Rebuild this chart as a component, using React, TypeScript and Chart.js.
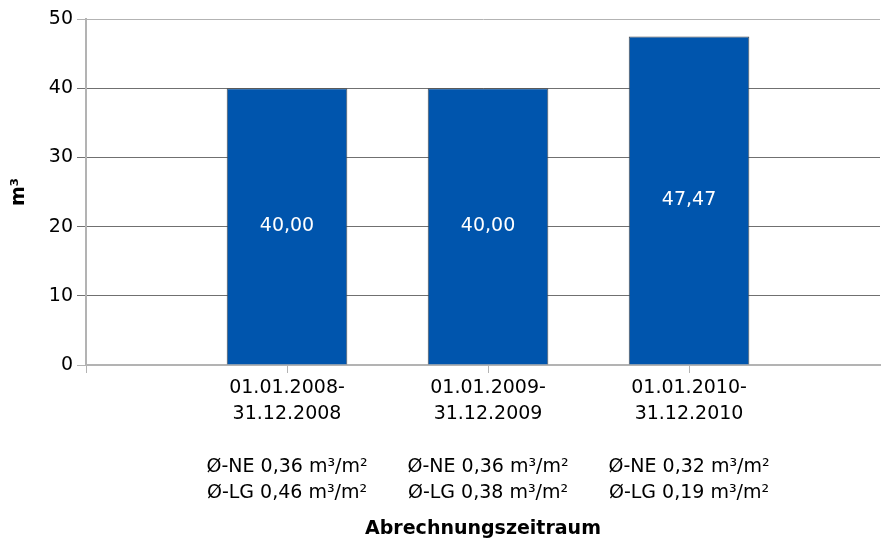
import React, { useEffect, useRef } from "react";
import { Chart, registerables } from "chart.js";

Chart.register(...registerables);

const categoryStart: string[] = ["01.01.2008-", "01.01.2009-", "01.01.2010-"];
const categoryEnd: string[] = ["31.12.2008", "31.12.2009", "31.12.2010"];
const values: number[] = [40.0, 40.0, 47.47];
const neValues: string[] = ["0,36", "0,36", "0,32"];
const lgValues: string[] = ["0,46", "0,38", "0,19"];
const yTicks: number[] = [0, 10, 20, 30, 40, 50];

const FONT = "'DejaVu Sans', Verdana, sans-serif";

const fmt = (v: number) => v.toFixed(2).replace(".", ",");

const valueLabels = {
  id: "valueLabels",
  afterDatasetsDraw(chart: any) {
    const ctx = chart.ctx;
    const meta = chart.getDatasetMeta(0);
    ctx.save();
    ctx.fillStyle = "#ffffff";
    ctx.font = `19px ${FONT}`;
    ctx.textAlign = "center";
    ctx.textBaseline = "middle";
    meta.data.forEach((bar: any, i: number) => {
      const { x, y, base } = bar.getProps(["x", "y", "base"], true);
      ctx.fillText(fmt(values[i]), x, (y + base) / 2);
    });
    ctx.restore();
  },
};

export default function App() {
  const ref = useRef<HTMLCanvasElement | null>(null);
  useEffect(() => {
    if (!ref.current) return;
    const chart = new Chart(ref.current, {
      type: "bar",
      data: {
        datasets: [
          {
            data: values.map((v, i) => ({ x: i + 1, y: v })),
            backgroundColor: "#0055ad",
            borderColor: "#4a4a4a",
            borderWidth: 1,
            barPercentage: 0.6,
            categoryPercentage: 1,
          },
        ],
      },
      options: {
        animation: false,
        responsive: false,
        devicePixelRatio: 1,
        layout: { padding: { top: 19, right: 2, left: 0, bottom: 0 } },
        plugins: { legend: { display: false }, tooltip: { enabled: false } },
        scales: {
          x: {
            type: "linear",
            offset: false,
            min: 0,
            max: 3.95,
            afterBuildTicks: (scale: any) => {
              scale.ticks = [0, 1, 2, 3].map((v) => ({ value: v }));
            },
            afterFit: (scale: any) => {
              scale.height = 175;
            },
            ticks: {
              autoSkip: false,
              maxRotation: 0,
              color: "#000",
              padding: 2,
              font: { family: FONT, size: 19, lineHeight: 1.38 },
              callback: (v: any) => {
                const i = Number(v) - 1;
                if (i < 0 || i > 2) return "";
                return [
                  categoryStart[i],
                  categoryEnd[i],
                  "",
                  `Ø-NE ${neValues[i]} m³/m²`,
                  `Ø-LG ${lgValues[i]} m³/m²`,
                ];
              },
            },
            grid: {
              offset: false,
              drawOnChartArea: false,
              drawTicks: true,
              tickLength: 8,
              color: "#b3b3b3",
            },
            border: { color: "#b3b3b3", width: 2 },
            title: {
              display: true,
              text: "Abrechnungszeitraum",
              color: "#000",
              font: { family: FONT, size: 19, weight: "bold" },
              padding: { top: 8, bottom: 0 },
            },
          },
          y: {
            min: 0,
            max: 50,
            afterBuildTicks: (scale: any) => {
              scale.ticks = yTicks.map((v) => ({ value: v }));
            },
            afterFit: (scale: any) => {
              scale.width = 86;
            },
            ticks: {
              color: "#000",
              padding: 4,
              font: { family: FONT, size: 19 },
            },
            grid: {
              tickLength: 9,
              color: (c: any) =>
                c.tick && (c.tick.value === 0 || c.tick.value === 50) ? "#b3b3b3" : "#707070",
            },
            border: { color: "#b3b3b3", width: 2 },
            title: {
              display: true,
              text: "m³",
              color: "#000",
              font: { family: FONT, size: 19, weight: "bold" },
              padding: { top: 8, bottom: 0 },
            },
          },
        },
      },
      plugins: [valueLabels],
    });
    return () => chart.destroy();
  }, []);
  return (
    <div style={{ position: "absolute", left: 0, top: 0, width: 882, height: 540, background: "#fff" }}>
      <canvas ref={ref} width={882} height={540} />
    </div>
  );
}
